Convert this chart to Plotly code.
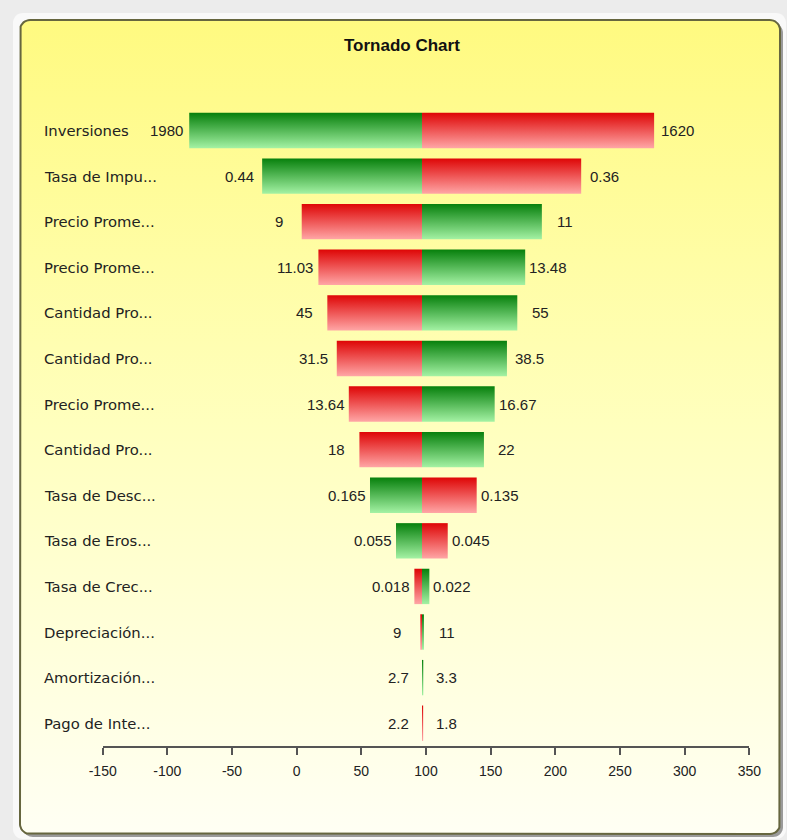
import numpy as np
import plotly.graph_objects as go

# ---------------- data ----------------
variables = ["Inversiones", "Tasa de Impu...", "Precio Prome...", "Precio Prome...",
             "Cantidad Pro...", "Cantidad Pro...", "Precio Prome...", "Cantidad Pro...",
             "Tasa de Desc...", "Tasa de Eros...", "Tasa de Crec...", "Depreciación...",
             "Amortización...", "Pago de Inte..."]
base_value = 96.9
left_output = [-83.1, -26.7, 3.9, 16.8, 23.7, 31.0, 40.3, 48.5, 56.7, 76.8, 91.0, 95.6, 96.9, 96.9]
right_output = [276.4, 220.0, 189.6, 176.7, 170.6, 162.6, 153.1, 144.8, 139.2, 116.8, 102.6, 98.4, 97.9, 97.8]
left_input_labels = ["1980", "0.44", "9", "11.03", "45", "31.5", "13.64", "18",
                     "0.165", "0.055", "0.018", "9", "2.7", "2.2"]
right_input_labels = ["1620", "0.36", "11", "13.48", "55", "38.5", "16.67", "22",
                      "0.135", "0.045", "0.022", "11", "3.3", "1.8"]
x_ticks = [-150, -100, -50, 0, 50, 100, 150, 200, 250, 300, 350]

# ---------------- styling ----------------
W, H = 787, 840
GREEN = [[0, "#a4f2a4"], [1, "#07800c"]]
RED = [[0, "#ffa6a6"], [1, "#de0606"]]
FONT = "Liberation Sans, Arial, sans-serif"
LABEL_FONT = "DejaVu Sans, Verdana, sans-serif"
half_h = 0.388

fig = go.Figure()


def rounded_rect(x0, y0, x1, y1, r, n=10):
    xs, ys = [], []
    corners = [(x1 - r, y0 + r, -90, 0), (x1 - r, y1 - r, 0, 90),
               (x0 + r, y1 - r, 90, 180), (x0 + r, y0 + r, 180, 270)]
    for cx, cy, a0, a1 in corners:
        for a in np.linspace(np.radians(a0), np.radians(a1), n):
            xs.append(cx + r * np.cos(a))
            ys.append(cy + r * np.sin(a))
    xs.append(xs[0]); ys.append(ys[0])
    return xs, ys


# background decoration (pixel space, subplot xy)
bx, by = rounded_rect(13, 13, 786, 839, 10)
fig.add_trace(go.Scatter(x=bx, y=by, fill="toself", fillcolor="#f9f9f9", mode="none",
                         hoverinfo="skip", showlegend=False, xaxis="x", yaxis="y"))
sx, sy = rounded_rect(23, 23, 783, 837, 10)
fig.add_trace(go.Scatter(x=sx, y=sy, fill="toself", fillcolor="#9a9a9a", mode="none",
                         hoverinfo="skip", showlegend=False, xaxis="x", yaxis="y"))
px_, py_ = rounded_rect(20, 20, 780, 834, 10)
fig.add_trace(go.Scatter(x=px_, y=py_, fill="toself", mode="lines",
                         line=dict(color="#66663f", width=2),
                         fillgradient=dict(type="vertical",
                                           colorscale=[[0, "#fffff4"], [0.5, "#ffffbe"], [1, "#fffa80"]]),
                         hoverinfo="skip", showlegend=False, xaxis="x", yaxis="y"))

# tornado bars (subplot x2y2)
for i, var in enumerate(variables):
    left_is_green = float(left_input_labels[i]) > float(right_input_labels[i])
    segments = [(left_output[i], base_value, GREEN if left_is_green else RED),
                (base_value, right_output[i], RED if left_is_green else GREEN)]
    for xa, xb, cs in segments:
        if xb - xa <= 0:
            continue
        fig.add_trace(go.Scatter(
            x=[xa, xb, xb, xa, xa],
            y=[i - half_h, i - half_h, i + half_h, i + half_h, i - half_h],
            fill="toself", mode="none",
            fillgradient=dict(type="vertical", colorscale=cs),
            hoverinfo="skip", showlegend=False, xaxis="x2", yaxis="y2"))
    fig.add_annotation(x=left_output[i], y=i, xref="x2", yref="y2", text=left_input_labels[i],
                       showarrow=False, xanchor="center", xshift=-23,
                       font=dict(family=FONT, size=15, color="#222222"))
    fig.add_annotation(x=right_output[i], y=i, xref="x2", yref="y2", text=right_input_labels[i],
                       showarrow=False, xanchor="center", xshift=23,
                       font=dict(family=FONT, size=15, color="#222222"))
    fig.add_annotation(x=42 / W, y=i, xref="paper", yref="y2", text=var,
                       showarrow=False, xanchor="left",
                       font=dict(family=LABEL_FONT, size=14.8, color="#222222"))

fig.add_annotation(x=402 / W, y=1 - 45 / H, xref="paper", yref="paper", text="<b>Tornado Chart</b>",
                   showarrow=False, xanchor="center", yanchor="middle",
                   font=dict(family=FONT, size=17, color="#111111"))

fig.update_layout(
    width=W, height=H,
    margin=dict(l=0, r=0, t=0, b=0, pad=0, autoexpand=False),
    paper_bgcolor="#ececec", plot_bgcolor="rgba(0,0,0,0)",
    showlegend=False,
    xaxis=dict(domain=[0, 1], range=[0, W], visible=False, fixedrange=True),
    yaxis=dict(domain=[0, 1], range=[H, 0], visible=False, fixedrange=True),
    xaxis2=dict(domain=[102.7 / W, 749.3 / W], range=[-150, 350], anchor="y2",
                tickvals=x_ticks, ticktext=[str(v) for v in x_ticks],
                ticks="outside", ticklen=7, tickwidth=2, tickcolor="#555555",
                showline=True, linecolor="#555555", linewidth=2,
                showgrid=False, zeroline=False, ticklabelstandoff=4,
                tickfont=dict(family=FONT, size=14, color="#222222")),
    yaxis2=dict(domain=[1 - 746 / H, 1 - 107.7 / H], range=[13.5, -0.5], anchor="x2",
                visible=False, showgrid=False, zeroline=False),
)

fig.write_html("out.html", config={"displayModeBar": False},
               post_script="document.body.style.margin='0';")
